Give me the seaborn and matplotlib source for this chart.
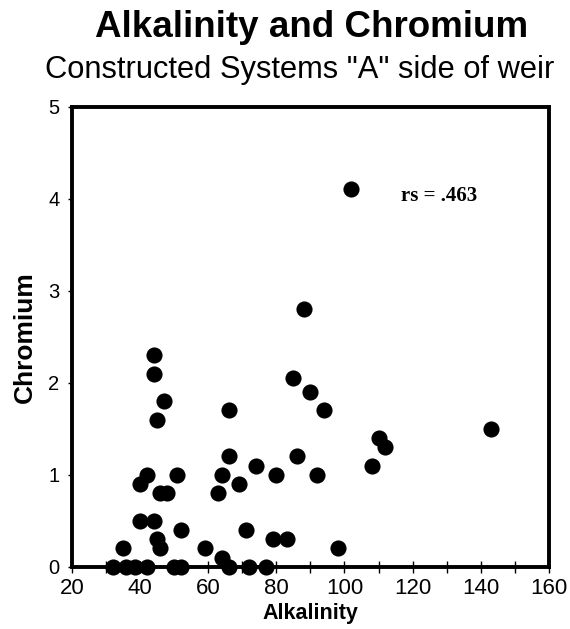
import matplotlib
matplotlib.use('Agg')
import matplotlib.pyplot as plt
import seaborn as sns
import pandas as pd
from matplotlib.ticker import MultipleLocator

# values
alkalinity = [102, 88, 44, 44, 47, 45, 85, 90, 94, 66,
              143, 110, 112, 108, 86, 66, 64, 63, 69, 74,
              80, 92, 71, 79, 83, 98, 59, 64, 66, 72,
              77, 40, 42, 46, 48, 51, 40, 44, 45, 46,
              52, 35, 32, 36, 38.5, 42, 50, 52]
chromium = [4.1, 2.8, 2.3, 2.1, 1.8, 1.6, 2.05, 1.9, 1.7, 1.7,
            1.5, 1.4, 1.3, 1.1, 1.2, 1.2, 1.0, 0.8, 0.9, 1.1,
            1.0, 1.0, 0.4, 0.3, 0.3, 0.2, 0.2, 0.1, 0.0, 0.0,
            0.0, 0.9, 1.0, 0.8, 0.8, 1.0, 0.5, 0.5, 0.3, 0.2,
            0.4, 0.2, 0.0, 0.0, 0.0, 0.0, 0.0, 0.0]
x_ticks = [20, 40, 60, 80, 100, 120, 140, 160]
y_ticks = [0, 1, 2, 3, 4, 5]
rs_label = "rs = .463"

df = pd.DataFrame({"Alkalinity": alkalinity, "Chromium": chromium})

sns.set_style("white")
plt.rcParams['font.family'] = ['Liberation Sans', 'DejaVu Sans']
plt.rcParams['text.color'] = 'black'
plt.rcParams['axes.labelcolor'] = 'black'
plt.rcParams['xtick.color'] = 'black'
plt.rcParams['ytick.color'] = 'black'

fig = plt.figure(figsize=(5.7, 6.29), dpi=100)
ax = fig.add_axes([0.126, 0.099, 0.837, 0.7314])

sns.scatterplot(data=df, x="Alkalinity", y="Chromium", ax=ax,
                color="black", s=135, edgecolor="black", linewidth=0,
                clip_on=False, zorder=3)

ax.set_xlim(20, 160)
ax.set_ylim(0, 5)
ax.set_xticks(x_ticks)
ax.set_yticks(y_ticks)
ax.xaxis.set_minor_locator(MultipleLocator(10))

for side in ["left", "right", "top", "bottom"]:
    ax.spines[side].set_visible(True)
    ax.spines[side].set_color("black")
    ax.spines[side].set_linewidth(2.8)

ax.tick_params(axis="x", which="both", direction="inout", length=8,
               width=1, color="black", labelcolor="black", bottom=True,
               labelsize=16, pad=4)
ax.tick_params(axis="y", which="major", direction="out", length=3,
               width=1, color="black", labelcolor="black", left=True,
               labelsize=14.5, pad=6)

ax.set_xlabel("Alkalinity", fontsize=15.5, fontweight="bold", labelpad=3,
              color="black")
ax.set_ylabel("Chromium", fontsize=19, fontweight="bold", labelpad=8,
              color="black")

ax.text(116.5, 3.97, rs_label, family=["Liberation Serif", "DejaVu Serif"],
        fontsize=15, fontweight="bold", ha="left", va="baseline",
        color="black")

fig.text(0.546, 0.941, "Alkalinity and Chromium", fontsize=26.5,
         fontweight="bold", ha="center", va="baseline", color="black")
fig.text(0.526, 0.876, 'Constructed Systems "A" side of weir', fontsize=22.2,
         ha="center", va="baseline", color="black")

plt.savefig("out.png", dpi=100)
plt.close(fig)
